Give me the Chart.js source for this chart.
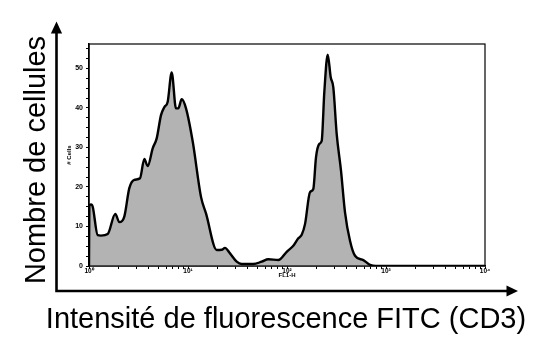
<!DOCTYPE html>
<html><head><meta charset="utf-8">
<script src="https://cdn.jsdelivr.net/npm/chart.js@4.4.1/dist/chart.umd.min.js"></script>
<style>html,body{margin:0;padding:0;background:#fff;}#wrap{width:546px;height:354px;}</style>
</head><body><div id="wrap"><canvas id="c" width="546" height="354"></canvas></div>
<script>
// FL1-H intensity (log scale) and cell counts
const intensity = [1.0, 1.008, 1.048, 1.09, 1.224, 1.322, 1.545, 1.844, 2.024, 2.273, 2.554, 2.869, 3.275, 3.62, 3.916, 4.40, 4.829, 5.337, 5.764, 6.236, 6.845, 7.565, 7.98, 8.638, 9.546, 11.16, 13.53, 15.20, 19.50, 21.90, 23.64, 26.57, 31.04, 34.86, 45.66, 55.52, 64.73, 81.70, 99.3, 115.8, 130.1, 140.8, 152.0, 170.8, 184.4, 196.3, 212.1, 224.2, 238.2, 257.8, 276.4, 293.6, 317.7, 351.3, 385.4, 432.9, 486.4, 589.8, 689.3, 792, 10000];
const cellCounts = [0, 15.2, 15.6, 15.0, 7.8, 7.7, 8.1, 13.2, 11.1, 12.5, 19.7, 21.8, 22.2, 27.1, 25.3, 29.8, 32.3, 38.2, 40.2, 41.6, 49.0, 39.9, 39.9, 42.2, 39.9, 31.5, 17.5, 13.3, 4.05, 4.1, 4.6, 3.2, 1.1, 0.5, 0.5, 1.1, 1.7, 1.5, 3.6, 5.1, 7.0, 7.9, 10.6, 18.7, 19.5, 27.5, 30.9, 31.7, 44.0, 53.5, 47.8, 45.2, 33.4, 24.1, 13.6, 6.4, 2.6, 1.5, 0.3, 0, 0];
const xTickValues = [1,2,3,4,5,6,7,8,9,10,20,30,40,50,60,70,80,90,100,200,300,400,500,600,700,800,900,1000,2000,3000,4000,5000,6000,7000,8000,9000,10000];
const xTickLabels = {1:'10⁰', 10:'10¹', 100:'10²', 1000:'10³', 10000:'10⁴'};
const yTickValues = [0,2.5,5,7.5,10,12.5,15,17.5,20,22.5,25,27.5,30,32.5,35,37.5,40,42.5,45,47.5,50,52.5,55];
const yTickLabels = {0:'0', 10:'10', 20:'20', 30:'30', 40:'40', 50:'50'};
const xTitleInner = 'FL1-H';
const yTitleInner = '# Cells';
const xTitleOuter = 'Intensité de fluorescence FITC (CD3)';
const yTitleOuter = 'Nombre de cellules';

const FONT = "'Liberation Sans', Arial, Helvetica, sans-serif";

const decor = {
  id: 'decor',
  afterDraw(chart) {
    const {ctx, chartArea: a} = chart;
    ctx.save();
    ctx.strokeStyle = '#000';
    ctx.lineWidth = 1.2;
    ctx.strokeRect(a.left, a.top, a.right - a.left, a.bottom - a.top);
    // big axes arrows
    const ax = a.left - 32.5, ay = a.bottom + 25;
    ctx.lineWidth = 2.6;
    ctx.lineCap = 'butt';
    ctx.beginPath();
    ctx.moveTo(ax, ay + 1.3); ctx.lineTo(ax, 32);
    ctx.moveTo(ax - 1.3, ay); ctx.lineTo(508, ay);
    ctx.stroke();
    ctx.fillStyle = '#000';
    ctx.beginPath();
    ctx.moveTo(ax, 21.5); ctx.lineTo(ax - 5.6, 33.5); ctx.lineTo(ax + 5.6, 33.5); ctx.closePath(); ctx.fill();
    ctx.beginPath();
    ctx.moveTo(518, ay); ctx.lineTo(506.5, ay - 5.6); ctx.lineTo(506.5, ay + 5.6); ctx.closePath(); ctx.fill();
    // big titles
    ctx.font = '29px ' + FONT;
    ctx.textAlign = 'center';
    ctx.textBaseline = 'alphabetic';
    ctx.fillText(xTitleOuter, 286, 328);
    ctx.translate(45, 160);
    ctx.rotate(-Math.PI / 2);
    ctx.fillText(yTitleOuter, 0, 0);
    ctx.restore();
  }
};

new Chart(document.getElementById('c'), {
  type: 'line',
  data: {
    datasets: [{
      data: intensity.map((v, i) => ({x: v, y: cellCounts[i]})),
      borderColor: '#000',
      borderWidth: 2.4,
      backgroundColor: '#b3b3b3',
      fill: 'origin',
      pointRadius: 0,
      tension: 0.3,
      cubicInterpolationMode: 'monotone',
      borderJoinStyle: 'round'
    }]
  },
  options: {
    responsive: false,
    animation: false,
    layout: {padding: {left: 66, top: 44, right: 61, bottom: 75}},
    plugins: {legend: {display: false}, tooltip: {enabled: false}},
    scales: {
      x: {
        type: 'logarithmic',
        min: 1, max: 10000,
        afterBuildTicks: s => { s.ticks = xTickValues.map(v => ({value: v})); },
        afterFit: s => { s.height = 13; },
        ticks: {
          autoSkip: false, maxRotation: 0, padding: -2,
          color: '#000',
          font: {family: FONT, size: 6.5, weight: 'bold'},
          callback: v => xTickLabels[v] || ''
        },
        grid: {drawOnChartArea: false, drawTicks: true, tickLength: 3, color: '#000', lineWidth: 1},
        border: {display: true, color: '#000', width: 1.5},
        title: {display: true, text: xTitleInner, color: '#000', padding: 0, font: {family: FONT, size: 6, weight: 'bold'}}
      },
      y: {
        type: 'linear',
        min: 0, max: 56.2,
        afterBuildTicks: s => { s.ticks = yTickValues.map(v => ({value: v})); },
        afterFit: s => { s.width = 23; },
        ticks: {
          autoSkip: false, padding: 3,
          color: '#000',
          font: {family: FONT, size: 7, weight: 'bold'},
          callback: v => yTickLabels[v] || ''
        },
        grid: {drawOnChartArea: false, drawTicks: true, tickLength: 3, color: '#000', lineWidth: 1},
        border: {display: true, color: '#000', width: 1.5},
        title: {display: true, text: yTitleInner, color: '#000', padding: 0, font: {family: FONT, size: 6, weight: 'bold'}}
      }
    }
  },
  plugins: [decor]
});
</script>
</body></html>
